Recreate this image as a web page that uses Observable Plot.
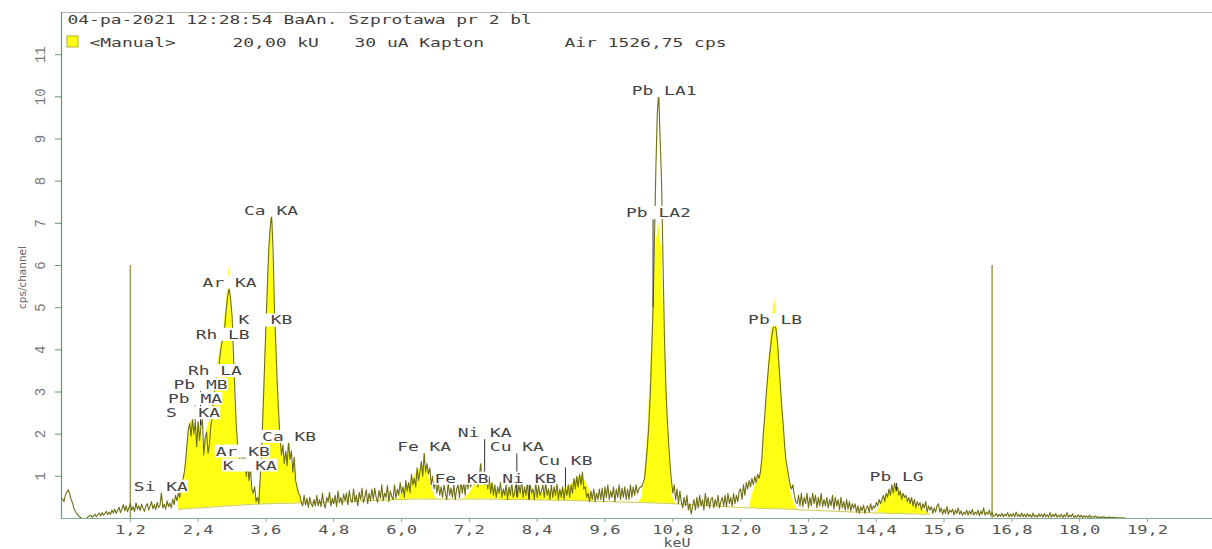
<!DOCTYPE html>
<html><head><meta charset="utf-8">
<script src="https://cdn.jsdelivr.net/npm/d3@7"></script>
<script src="https://cdn.jsdelivr.net/npm/@observablehq/plot@0.6"></script>
<style>
body{margin:0;background:#fff;}
svg text{white-space:pre;}
</style></head><body><div id="chart"></div>
<script>
// ---- data ----
const spectrumStep = 0.025; // keV per point
const spectrum = [
0.47,0.4,0.55,0.62,0.68,0.6,0.45,0.38,0.25,0.18,0.12,0.08,0.04,0.02,0,0,0,0,0.04,0.06,
0.08,0.03,0.06,0.1,0.04,0.09,0.13,0.06,0.14,0.08,0.12,0.17,0.09,0.15,0.1,0.2,0.13,0.22,0.12,0.19,
0.27,0.14,0.22,0.33,0.18,0.3,0.16,0.26,0.35,0.2,0.28,0.16,0.37,0.22,0.3,0.19,0.34,0.24,0.17,0.3,
0.35,0.2,0.29,0.4,0.23,0.33,0.21,0.38,0.26,0.31,0.62,0.25,0.34,0.22,0.42,0.28,0.36,0.25,0.46,0.33,
0.55,0.42,0.6,0.5,0.8,0.9,1.05,1.3,1.7,2.1,2.25,1.95,2.35,2.0,2.3,1.7,2.3,1.85,2.2,2.35,
1.5,1.9,2.05,1.55,1.75,2.2,2.4,2.8,3.1,3.3,3.5,3.7,4.0,4.2,4.3,4.6,5.0,5.3,5.45,5.2,
4.8,3.9,3.0,2.2,1.7,1.45,1.35,1.6,1.3,1.55,1.0,1.3,0.9,1.2,0.7,0.6,0.75,0.4,0.5,0.35,
1.0,1.7,2.6,3.6,4.6,5.5,6.4,6.9,7.2,6.4,5.0,4.1,3.2,2.5,1.9,1.5,1.75,1.3,1.6,1.25,
1.85,1.4,1.6,1.1,1.45,0.9,0.75,0.6,0.55,0.38,0.3,0.55,0.32,0.48,0.26,0.5,0.35,0.28,0.45,0.3,
0.55,0.3,0.45,0.28,0.6,0.35,0.25,0.5,0.4,0.62,0.3,0.48,0.35,0.55,0.28,0.65,0.38,0.5,0.32,0.58,
0.42,0.6,0.33,0.66,0.45,0.38,0.7,0.4,0.55,0.3,0.62,0.45,0.72,0.38,0.5,0.68,0.35,0.6,0.42,0.7,
0.45,0.72,0.5,0.38,0.66,0.48,0.8,0.42,0.6,0.5,0.78,0.4,0.65,0.52,0.45,0.8,0.48,0.7,0.55,0.85,
0.6,0.75,0.5,0.9,0.65,0.85,0.6,1.05,0.8,0.95,0.75,1.2,0.9,1.1,1.35,1.0,1.55,1.1,1.3,1.05,
1.2,0.8,1.0,0.7,0.9,0.6,0.85,0.55,0.75,0.5,0.8,0.6,0.45,0.85,0.55,0.72,0.5,0.8,0.45,0.7,
0.8,0.5,0.9,0.6,0.85,0.55,0.95,0.7,1.0,0.75,1.05,0.8,0.95,1.1,0.75,1.0,1.3,0.85,1.1,0.8,
0.95,0.7,1.0,0.6,0.85,0.55,0.8,0.5,0.75,0.6,0.85,0.5,0.7,0.55,0.8,0.45,0.75,0.55,0.85,0.5,
0.6,0.85,0.5,0.8,0.6,0.9,0.5,0.75,0.55,0.85,0.45,0.8,0.6,0.7,0.45,0.85,0.5,0.78,0.55,0.65,
0.8,0.5,0.85,0.55,0.7,0.45,0.8,0.5,0.75,0.55,0.82,0.45,0.7,0.5,0.75,0.45,0.72,0.55,0.8,0.5,
0.8,0.6,0.95,0.7,1.0,0.75,1.05,0.8,1.1,0.7,0.75,0.5,0.6,0.4,0.65,0.45,0.7,0.4,0.6,0.45,
0.7,0.45,0.72,0.4,0.75,0.5,0.8,0.45,0.65,0.5,0.75,0.4,0.7,0.5,0.8,0.45,0.72,0.5,0.75,0.45,
0.7,0.45,0.8,0.5,0.75,0.55,0.8,0.6,0.7,0.75,0.75,0.85,0.95,1.3,1.7,2.2,2.9,3.9,5.0,6.6,
8.3,9.6,10.1,9.0,8.0,6.2,4.4,3.2,2.4,1.8,1.3,0.9,0.6,0.8,0.45,0.7,0.35,0.65,0.4,0.25,
0.5,0.3,0.55,0.2,0.35,0.1,0.3,0.45,0.2,0.5,0.25,0.55,0.3,0.45,0.2,0.6,0.3,0.5,0.25,0.45,
0.5,0.25,0.45,0.3,0.55,0.25,0.4,0.5,0.3,0.55,0.28,0.6,0.35,0.5,0.3,0.6,0.35,0.55,0.4,0.65,
0.7,0.45,0.8,0.55,0.85,0.7,0.9,0.75,0.95,0.8,1.0,0.85,1.05,0.95,1.1,1.4,2.0,2.4,2.9,3.3,
3.7,4.0,4.3,4.5,4.6,4.5,4.2,3.7,3.2,2.7,2.3,1.8,1.4,1.2,1.0,0.8,0.7,0.8,0.55,0.4,
0.35,0.55,0.3,0.6,0.28,0.5,0.35,0.6,0.25,0.5,0.3,0.6,0.35,0.55,0.25,0.5,0.3,0.6,0.28,0.45,
0.3,0.5,0.25,0.45,0.3,0.55,0.22,0.5,0.3,0.45,0.2,0.5,0.25,0.4,0.2,0.45,0.22,0.4,0.18,0.35,
0.25,0.35,0.15,0.3,0.12,0.28,0.18,0.32,0.12,0.25,0.3,0.15,0.35,0.2,0.3,0.25,0.38,0.3,0.45,0.35,
0.45,0.55,0.4,0.6,0.5,0.7,0.55,0.8,0.6,0.85,0.65,0.75,0.55,0.65,0.45,0.6,0.5,0.55,0.4,0.5,
0.35,0.5,0.3,0.45,0.25,0.4,0.3,0.38,0.2,0.35,0.25,0.4,0.15,0.3,0.2,0.28,0.12,0.25,0.15,0.3,
0.35,0.15,0.25,0.1,0.22,0.12,0.28,0.1,0.2,0.15,0.22,0.08,0.2,0.12,0.25,0.1,0.18,0.08,0.15,0.1,
0.2,0.08,0.18,0.1,0.22,0.08,0.15,0.1,0.2,0.06,0.18,0.1,0.25,0.08,0.15,0.1,0.2,0.08,0.15,0.06,
0.06,0.12,0.04,0.1,0.05,0.12,0.04,0.1,0.06,0.14,0.04,0.1,0.05,0.12,0.04,0.15,0.05,0.1,0.04,0.13,
0.04,0.1,0.03,0.12,0.05,0.09,0.03,0.13,0.04,0.08,0.03,0.11,0.05,0.1,0.03,0.12,0.04,0.09,0.03,0.14,
0.03,0.1,0.04,0.12,0.03,0.08,0.04,0.1,0.02,0.09,0.04,0.14,0.03,0.08,0.04,0.11,0.02,0.07,0.03,0.09,
0.03,0.08,0.02,0.07,0.03,0.06,0.02,0.08,0.02,0.05,0.03,0.06,0.02,0.05,0.01,0.04,0.02,0.05,0.01,0.03,
0.02,0.04,0.01,0.03,0.01,0.03,0.01,0.02,0.01,0.02,0.01,0.02,0.01
];

// fitted peak area (yellow): energy, background (bottom) and fit (top)
const fitKeV = [2.05,2.1,2.15,2.2,2.25,2.3,2.35,2.4,2.45,2.5,2.55,2.6,2.65,2.7,2.75,2.8,2.85,2.9,2.95,3.0,
3.05,3.1,3.15,3.2,3.25,3.3,3.35,3.4,3.45,3.5,3.55,3.6,3.65,3.7,3.75,3.8,3.85,3.9,3.95,4.0,
4.05,4.1,4.15,4.2,4.25,4.3,4.8,5.4,5.95,6.0,6.05,6.1,6.15,6.2,6.25,6.3,6.35,6.4,6.45,6.5,
6.55,6.6,6.65,7.1,7.2,7.3,7.4,7.5,7.6,7.7,7.8,8.0,8.2,8.4,8.6,8.8,9.0,9.1,9.2,9.3,
9.4,10.2,10.25,10.3,10.35,10.4,10.45,10.5,10.55,10.6,10.65,10.7,10.75,10.8,10.85,11.5,12.15,12.2,12.25,12.3,
12.35,12.4,12.45,12.5,12.55,12.6,12.65,12.7,12.75,12.8,12.85,12.9,12.95,13.0,13.7,14.4,14.45,14.5,14.55,14.6,
14.65,14.7,14.75,14.8,14.85,14.9,14.95,15.0,15.1,15.2,15.3,15.35];
const fitLow = [0.22,0.22,0.23,0.23,0.24,0.24,0.25,0.25,0.25,0.26,0.26,0.27,0.27,0.28,0.28,0.29,0.29,0.3,0.3,0.3,
0.31,0.31,0.32,0.32,0.33,0.33,0.33,0.34,0.34,0.34,0.35,0.35,0.35,0.35,0.36,0.36,0.36,0.36,0.36,0.36,
0.36,0.36,0.37,0.37,0.37,0.37,0.39,0.42,0.45,0.45,0.45,0.45,0.46,0.46,0.46,0.46,0.46,0.46,0.46,0.46,
0.46,0.46,0.46,0.46,0.46,0.46,0.46,0.46,0.46,0.46,0.45,0.45,0.45,0.44,0.44,0.43,0.43,0.42,0.42,0.42,
0.41,0.38,0.38,0.38,0.37,0.37,0.37,0.37,0.36,0.36,0.36,0.36,0.35,0.35,0.35,0.3,0.25,0.25,0.25,0.24,
0.24,0.24,0.24,0.24,0.23,0.23,0.23,0.23,0.23,0.22,0.22,0.22,0.22,0.21,0.17,0.13,0.13,0.13,0.13,0.12,
0.12,0.12,0.12,0.12,0.12,0.11,0.11,0.11,0.11,0.1,0.1,0.1];
const fitHigh = [0.48,0.8,1.0,1.65,2.25,2.35,1.95,2.3,2.15,1.6,2.1,2.3,2.9,3.3,3.7,4.1,4.5,5.1,6.0,4.6,
2.8,1.7,1.4,1.5,1.0,1.15,0.7,0.55,0.4,0.95,2.5,4.5,6.4,7.3,5.0,3.2,1.9,1.5,1.3,1.7,
1.2,1.4,0.8,0.55,0.37,0.37,0.39,0.42,0.47,0.6,0.7,0.75,0.85,0.95,1.05,1.15,1.2,1.25,1.15,0.9,
0.65,0.5,0.46,0.46,0.6,0.8,0.95,0.98,0.8,0.62,0.62,0.66,0.62,0.6,0.62,0.64,0.8,0.95,1.02,0.75,
0.41,0.38,0.5,1.0,2.0,3.3,5.0,6.5,7.0,6.4,4.4,2.5,1.3,0.5,0.35,0.3,0.25,0.55,0.75,0.9,
1.1,1.8,2.8,3.8,4.6,5.25,4.6,3.6,2.4,1.4,0.9,0.55,0.35,0.21,0.17,0.13,0.25,0.38,0.5,0.55,
0.62,0.7,0.78,0.72,0.6,0.5,0.42,0.36,0.3,0.25,0.15,0.1];

const roiKeV = [1.2, 16.45];
const roiHeight = 6;

const peakElement = ["S","Pb","Pb","Rh","Rh","Ar","Ar","K","K","Ca","Ca","Si","Fe","Fe","Ni","Cu","Ni","Cu","Pb","Pb","Pb","Pb"];
const peakLine    = ["KA","MA","MB","LA","LB","KA","KB","KA","KB","KA","KB","KA","KA","KB","KA","KA","KB","KB","LA1","LA2","LB","LG"];
const peakKeV     = [2.308,2.345,2.442,2.697,2.834,2.957,3.19,3.313,3.59,3.69,4.01,1.74,6.40,7.06,7.47,8.04,8.26,8.90,10.55,10.45,12.61,14.76];
const peakLabelY  = [2.5,2.84,3.18,3.5,4.36,5.6,1.59,1.26,4.7,7.3,1.94,0.76,1.7,0.95,2.04,1.7,0.95,1.37,10.14,7.25,4.7,1.0];

const xTicks = [1.2,2.4,3.6,4.8,6.0,7.2,8.4,9.6,10.8,12.0,13.2,14.4,15.6,16.8,18.0,19.2];
const yTicks = [1,2,3,4,5,6,7,8,9,10,11];

const header1 = "04-pa-2021 12:28:54 BaAn. Szprotawa pr 2 bl";
const header2 = ["<Manual>", "20,00 kU", "30 uA Kapton", "Air 1526,75 cps"];
const xLabel = "keU";
const yLabel = "cps/channel";

// ---- build tables ----
const spectrumData = spectrum.map((v, i) => ({keV: +(i * spectrumStep).toFixed(3), cps: v}));
const fitData = fitKeV.map((k, i) => ({keV: k, low: fitLow[i], high: fitHigh[i]}));
const specAt = k => spectrum[Math.min(spectrum.length - 1, Math.round(k / spectrumStep))];
const peaks = peakKeV.map((k, i) => {
  const top = peakLabelY[i] - 0.17;
  return {keV: k, labelY: peakLabelY[i], text: peakElement[i].padEnd(2, " ") + " " + peakLine[i],
          mTop: top, mBottom: Math.min(specAt(k), top)};
});
const labelSet = new Set(peaks.map(p => p.text));

const xDomain = [-0.018, 20.35];
const yDomain = [0, 12];
const mono = "DejaVu Sans Mono";
const mono2 = "Liberation Mono";
const header2dx = [28, 171, 293, 503];

const chart = Plot.plot({
  width: 1212, height: 549,
  marginLeft: 61, marginRight: 0, marginTop: 12, marginBottom: 31,
  x: {domain: xDomain},
  y: {domain: yDomain},
  style: {background: "#fff"},
  marks: [
    Plot.areaY(fitData, {x: "keV", y1: "low", y2: "high", fill: "#ffff14"}),
    Plot.line(fitData, {x: "keV", y: "low", stroke: "#c4c43a", strokeWidth: 0.9}),
    Plot.ruleX(roiKeV, {x: d => d, y1: 0, y2: roiHeight, stroke: "#9c9c58", strokeWidth: 1.5}),
    Plot.line(spectrumData, {x: "keV", y: "cps", stroke: "#6f6f14", strokeWidth: 1.1}),
    Plot.ruleX(peaks, {x: "keV", y1: "mBottom", y2: "mTop", stroke: "#333", strokeWidth: 1}),
    Plot.text(peaks, {x: "keV", y: "labelY", text: "text", textAnchor: "start", lineAnchor: "middle",
      dx: -27, fontFamily: mono, fontSize: 13, fill: "#444"}),
    // frame lines
    Plot.ruleY([yDomain[1]], {stroke: "#b0b9b3"}),
    Plot.ruleX([xDomain[0]], {stroke: "#5f9c70", strokeWidth: 1.2}),
    Plot.ruleY([0], {stroke: "#84a89c", strokeWidth: 1.2}),
    // axes
    Plot.axisX({ticks: xTicks, tickFormat: d => d.toFixed(1).replace(".", ","), tickSize: 4, tickPadding: 3,
      fontSize: 12, fontFamily: mono, color: "#555", stroke: "#84a89c", label: null}),
    Plot.axisY({ticks: yTicks, tickFormat: () => "", tickSize: 6, stroke: "#5f9c70", label: null}),
    Plot.text(yTicks, {y: d => d, text: d => String(d), frameAnchor: "left", dx: -21, rotate: -90,
      textAnchor: "middle", lineAnchor: "middle", fontFamily: mono2, fontSize: 14, fill: "#777"}),
    Plot.text([yLabel], {text: d => d, frameAnchor: "left", dx: -39, dy: 12, rotate: -90,
      textAnchor: "middle", lineAnchor: "middle", fontFamily: "DejaVu Sans", fontSize: 10.5, fill: "#666"}),
    Plot.text([xLabel], {text: d => d, frameAnchor: "bottom", dx: 40, dy: 25,
      textAnchor: "middle", lineAnchor: "middle", fontFamily: mono, fontSize: 12, fill: "#555"}),
    // header
    Plot.text([header1], {text: d => d, frameAnchor: "top-left", dx: 6, dy: 7, textAnchor: "start",
      lineAnchor: "middle", fontFamily: mono, fontSize: 13, fill: "#3f3f3f"}),
    ...header2.map((h, i) => Plot.text([h], {text: d => d, frameAnchor: "top-left", dx: header2dx[i], dy: 30,
      textAnchor: "start", lineAnchor: "middle", fontFamily: mono, fontSize: 13, fill: "#3f3f3f"}))
  ]
});

document.getElementById("chart").append(chart);

// wide pixel-font look: stretch monospace glyphs to the reference's character pitch
chart.querySelectorAll("text").forEach(t => {
  if (!getComputedStyle(t).fontFamily.includes("DejaVu Sans Mono")) return;
  const s = t.textContent;
  const pitch = /^\d+,\d$/.test(s) ? 10.3 : s === xLabel ? 9 : 10.8;
  t.setAttribute("textLength", (s.length * pitch).toFixed(1));
  t.setAttribute("lengthAdjust", "spacingAndGlyphs");
});
// white boxes behind peak labels
chart.querySelectorAll("text").forEach(t => {
  if (!labelSet.has(t.textContent)) return;
  const b = t.getBBox();
  const r = document.createElementNS("http://www.w3.org/2000/svg", "rect");
  r.setAttribute("x", b.x - 1); r.setAttribute("y", b.y + 1);
  r.setAttribute("width", b.width + 1); r.setAttribute("height", b.height - 2);
  if (t.getAttribute("transform")) r.setAttribute("transform", t.getAttribute("transform"));
  r.setAttribute("fill", "#fff");
  t.parentNode.insertBefore(r, t);
});
// legend swatch in header
d3.select(chart).append("rect")
  .attr("x", 67).attr("y", 36).attr("width", 11).attr("height", 11)
  .attr("fill", "#ffff14").attr("stroke", "#b8b020").attr("stroke-width", 1);
</script></body></html>
